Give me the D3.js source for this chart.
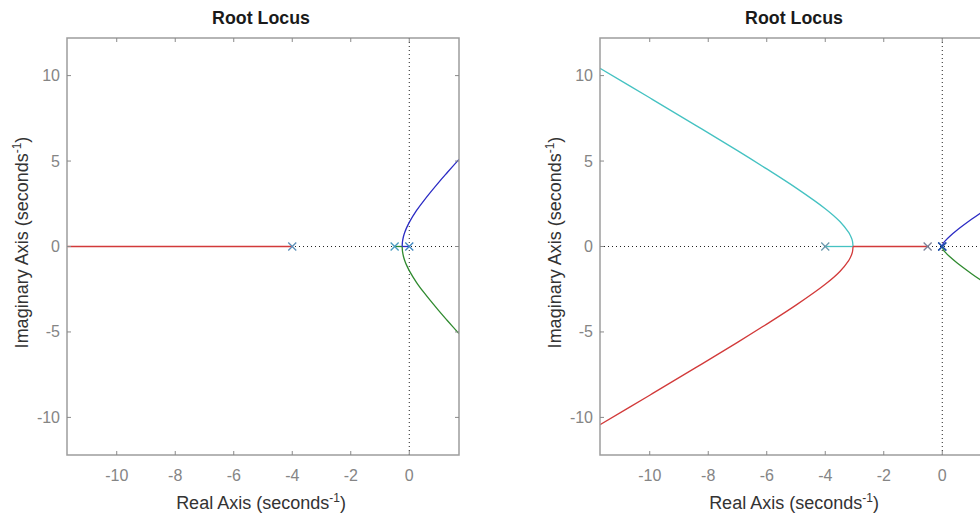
<!DOCTYPE html>
<html>
<head>
<meta charset="utf-8">
<script src="https://cdn.jsdelivr.net/npm/d3@7"></script>
<style>
  html, body { margin: 0; padding: 0; background: #fff; }
  svg { display: block; font-family: "Liberation Sans", Arial, Helvetica, sans-serif; }
</style>
</head>
<body>
<svg id="chart" width="980" height="513"></svg>
<script>
// ---------- data ----------
const titleText = "Root Locus";
const xLabelText = "Real Axis (seconds";
const yLabelText = "Imaginary Axis (seconds";
const xTicks = [-10, -8, -6, -4, -2, 0];
const yTicks = [-10, -5, 0, 5, 10];
const xLimits = [-11.7, 1.7];
const yLimits = [-12.2, 12.2];

// Left chart: poles and branches
const leftPoles = [0, -0.5, -4];
const leftRed = [[-4, 0], [-12, 0]];
const leftBlue = [[0, 0], [-0.242, 0], [-0.24, 0.11], [-0.235, 0.23], [-0.23, 0.30], [-0.2, 0.57], [-0.15, 0.85], [-0.1, 1.06], [0, 1.41], [0.25, 2.11], [0.5, 2.69], [1, 3.74], [1.3, 4.33], [1.7, 5.10]];
const leftGreen = [[-0.5, 0], [-0.242, 0], [-0.24, -0.11], [-0.235, -0.23], [-0.23, -0.30], [-0.2, -0.57], [-0.15, -0.85], [-0.1, -1.06], [0, -1.41], [0.25, -2.11], [0.5, -2.69], [1, -3.74], [1.3, -4.33], [1.7, -5.10]];

// Right chart: poles and branches
const rightPoles = [0, 0, -0.5, -4];
const rightBlue = [[0, 0], [0.01, 0.094], [0.03, 0.163], [0.05, 0.223], [0.1, 0.33], [0.25, 0.59], [0.5, 0.95], [1, 1.59], [1.3, 1.95], [1.7, 2.41]];
const rightGreen = [[0, 0], [0.01, -0.094], [0.03, -0.163], [0.05, -0.223], [0.1, -0.33], [0.25, -0.59], [0.5, -0.95], [1, -1.59], [1.3, -1.95], [1.7, -2.41]];
const rightCyan = [[-4, 0], [-3.05, 0], [-3.07, 0.32], [-3.1, 0.48], [-3.15, 0.67], [-3.2, 0.82], [-3.5, 1.46], [-4, 2.21], [-5, 3.43], [-6, 4.54], [-7, 5.61], [-8.4, 7.06], [-10, 8.70], [-11.7, 10.43]];
const rightRed = [[-0.5, 0], [-3.05, 0], [-3.07, -0.32], [-3.1, -0.48], [-3.15, -0.67], [-3.2, -0.82], [-3.5, -1.46], [-4, -2.21], [-5, -3.43], [-6, -4.54], [-7, -5.61], [-8.4, -7.06], [-10, -8.70], [-11.7, -10.43]];

// ---------- styles ----------
const COL = { blue: "#2b2bc4", green: "#2f8a2f", red: "#d23a3a", cyan: "#45c2c2" };
const svg = d3.select("#chart");

const panels = [
  { left: 67, top: 38, width: 392, height: 417, id: "L",
    branches: [[leftRed, COL.red], [leftGreen, COL.green], [leftBlue, COL.blue]],
    poles: leftPoles, poleColors: ["#3f86c0", "#4a9cc0", "#5d8fb8"] },
  { left: 600, top: 38, width: 392, height: 417, id: "R",
    branches: [[rightCyan, COL.cyan], [rightRed, COL.red], [rightGreen, COL.green], [rightBlue, COL.blue]],
    poles: rightPoles, poleColors: ["#1f4fa8", "#1f4fa8", "#7d8299", "#6d9aae"] }
];

panels.forEach(p => {
  const x = d3.scaleLinear().domain(xLimits).range([p.left, p.left + p.width]);
  const y = d3.scaleLinear().domain(yLimits).range([p.top + p.height, p.top]);
  const g = svg.append("g");

  g.append("clipPath").attr("id", "clip" + p.id)
    .append("rect").attr("x", p.left).attr("y", p.top).attr("width", p.width).attr("height", p.height);

  const plot = g.append("g").attr("clip-path", `url(#clip${p.id})`);

  // dotted zero lines
  plot.append("line").attr("x1", x(xLimits[0])).attr("x2", x(xLimits[1]))
    .attr("y1", y(0)).attr("y2", y(0))
    .attr("stroke", "#222").attr("stroke-width", 1).attr("stroke-dasharray", "1,3");
  plot.append("line").attr("x1", x(0)).attr("x2", x(0))
    .attr("y1", y(yLimits[0])).attr("y2", y(yLimits[1]))
    .attr("stroke", "#222").attr("stroke-width", 1).attr("stroke-dasharray", "1,3");

  // branches
  const lineLin = d3.line().x(d => x(d[0])).y(d => y(d[1]));
  const lineCurve = d3.line().x(d => x(d[0])).y(d => y(d[1])).curve(d3.curveCatmullRom.alpha(0.5));
  p.branches.forEach(([data, color]) => {
    const realPart = data.slice(0, 2);
    const curvePart = data.slice(1);
    plot.append("path").attr("d", lineLin(realPart)).attr("fill", "none")
      .attr("stroke", color).attr("stroke-width", 1.3);
    if (curvePart.length > 1) {
      plot.append("path").attr("d", lineCurve(curvePart))
        .attr("fill", "none").attr("stroke", color).attr("stroke-width", 1.3);
    }
  });

  // pole markers
  const ms = 4;
  p.poles.forEach((v, i) => {
    const cx = x(v), cy = y(0);
    plot.append("path")
      .attr("d", `M${cx - ms},${cy - ms}L${cx + ms},${cy + ms}M${cx - ms},${cy + ms}L${cx + ms},${cy - ms}`)
      .attr("stroke", p.poleColors[i]).attr("stroke-width", 1.3).attr("fill", "none");
  });

  // box
  g.append("rect").attr("x", p.left).attr("y", p.top).attr("width", p.width).attr("height", p.height)
    .attr("fill", "none").attr("stroke", "#9d9d9d").attr("stroke-width", 1.5);

  // ticks (inside, mirrored)
  const tl = 4;
  xTicks.forEach(t => {
    g.append("line").attr("x1", x(t)).attr("x2", x(t)).attr("y1", p.top + p.height).attr("y2", p.top + p.height - tl)
      .attr("stroke", "#8a8a8a").attr("stroke-width", 1);
    g.append("line").attr("x1", x(t)).attr("x2", x(t)).attr("y1", p.top).attr("y2", p.top + tl)
      .attr("stroke", "#8a8a8a").attr("stroke-width", 1);
  });
  yTicks.forEach(t => {
    g.append("line").attr("x1", p.left).attr("x2", p.left + tl).attr("y1", y(t)).attr("y2", y(t))
      .attr("stroke", "#8a8a8a").attr("stroke-width", 1);
    g.append("line").attr("x1", p.left + p.width).attr("x2", p.left + p.width - tl).attr("y1", y(t)).attr("y2", y(t))
      .attr("stroke", "#8a8a8a").attr("stroke-width", 1);
  });

  // tick labels
  xTicks.forEach(t => {
    g.append("text").attr("x", x(t)).attr("y", p.top + p.height + 26)
      .attr("text-anchor", "middle").attr("font-size", 16).attr("fill", "#858585").text(t);
  });
  yTicks.forEach(t => {
    g.append("text").attr("x", p.left - 7).attr("y", y(t) + 5.5)
      .attr("text-anchor", "end").attr("font-size", 16).attr("fill", "#858585").text(t);
  });

  // title
  g.append("text").attr("x", p.left + p.width / 2 - 2).attr("y", 24)
    .attr("text-anchor", "middle").attr("font-size", 17.8).attr("font-weight", "bold").attr("fill", "#1a1a1a")
    .text(titleText);

  // x label
  const xl = g.append("text").attr("x", p.left + p.width / 2 - 2).attr("y", 509)
    .attr("text-anchor", "middle").attr("font-size", 18).attr("fill", "#333");
  xl.append("tspan").text(xLabelText);
  xl.append("tspan").attr("dy", -7).attr("font-size", 12).text("-1");
  xl.append("tspan").attr("dy", 7).text(")");

  // y label
  const yl = g.append("text")
    .attr("transform", `translate(${p.left - 39},${p.top + p.height / 2 - 4}) rotate(-90)`)
    .attr("text-anchor", "middle").attr("font-size", 18).attr("fill", "#333");
  yl.append("tspan").text(yLabelText);
  yl.append("tspan").attr("dy", -7).attr("font-size", 12).text("-1");
  yl.append("tspan").attr("dy", 7).text(")");
});
</script>
</body>
</html>
